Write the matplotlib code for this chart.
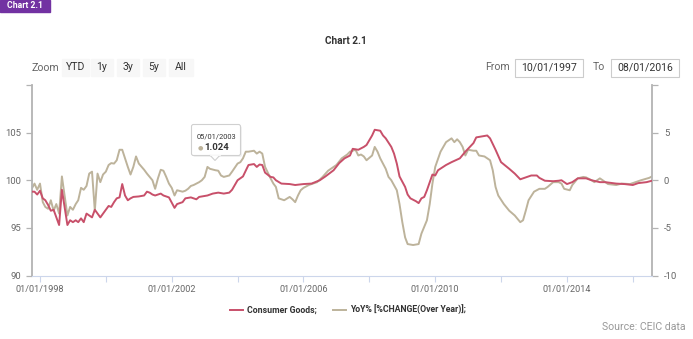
import matplotlib.pyplot as plt
import matplotlib.dates as mdates
from matplotlib.patches import Rectangle, FancyBboxPatch, Polygon
import pandas as pd

plt.rcParams['font.family'] = ['Roboto', 'DejaVu Sans']

# months counted from 10/1997
goods_m = [0, 1, 2, 3, 4, 5, 6, 7, 8, 9, 10, 11, 12, 13, 14, 15, 16, 17, 18, 19,
           20, 21, 22, 23, 24, 25, 26, 27, 28, 29, 30, 31, 32, 33, 34, 35, 36, 37, 39, 41,
           42, 43, 44, 45, 47, 48, 50, 52, 53, 55, 56, 58, 60, 61, 64, 66, 68, 70, 72, 73,
           75, 77, 78, 79, 81, 82, 83, 84, 85, 87, 88, 89, 91, 94, 96, 99, 102, 105, 107, 110,
           112, 114, 116, 117, 119, 121, 122, 123, 124, 125, 127, 128, 129, 131, 132, 133, 134, 136, 137, 138,
           140, 141, 142, 143, 144, 146, 147, 148, 151, 153, 156, 158, 161, 162, 164, 166, 167, 169, 171, 174,
           176, 178, 180, 182, 184, 185, 187, 190, 192, 193, 195, 197, 199, 202, 204, 207, 209, 213, 216, 219,
           221, 224, 226]
goods_v = [98.8, 98.8, 98.5, 98.9, 98.1, 97.9, 97.4, 96.8, 96.9, 96.1, 95.3, 99.0, 97.2, 95.3, 95.8, 95.6, 95.8, 95.6, 96.0, 95.6,
           96.5, 96.3, 96.1, 96.9, 96.5, 96.1, 96.5, 96.9, 97.3, 97.2, 97.7, 98.1, 98.2, 99.6, 98.4, 97.9, 98.1, 98.25, 98.3, 98.4,
           98.8, 98.7, 98.5, 98.4, 98.6, 98.4, 98.2, 97.1, 97.5, 97.7, 98.1, 98.2, 98.0, 98.25, 98.4, 98.6, 98.7, 98.6, 98.7, 99.0,
           100.0, 100.4, 101.0, 101.6, 101.7, 101.4, 101.65, 101.6, 100.8, 100.35, 100.3, 100.0, 99.65, 99.6, 99.5, 99.6, 99.65, 100.0, 100.4, 101.05,
           101.8, 102.3, 102.6, 103.3, 103.2, 103.5, 103.7, 104.2, 104.7, 105.3, 105.2, 104.7, 104.4, 103.5, 102.8, 101.75, 100.4, 99.3, 98.5, 98.1,
           97.8, 97.6, 98.1, 98.25, 98.95, 100.6, 100.5, 101.05, 101.6, 101.9, 102.3, 103.0, 103.9, 104.5, 104.6, 104.7, 104.4, 103.2, 101.9, 101.2,
           100.7, 100.1, 100.3, 100.5, 100.5, 100.25, 99.95, 99.9, 99.95, 100.0, 99.6, 99.8, 100.2, 100.2, 100.0, 99.8, 99.8, 99.65, 99.6, 99.5,
           99.7, 99.8, 99.95]

yoy_m = [0, 1, 2, 3, 4, 5, 6, 7, 8, 9, 10, 11, 12, 13, 14, 15, 16, 17, 18, 19,
         20, 21, 22, 23, 24, 25, 26, 27, 28, 29, 30, 31, 32, 33, 34, 35, 36, 37, 38, 39,
         40, 41, 42, 43, 44, 45, 46, 47, 48, 49, 50, 51, 52, 53, 55, 56, 57, 58, 59, 61,
         62, 63, 64, 65, 67, 68, 69, 70, 72, 73, 75, 76, 77, 78, 79, 81, 82, 83, 84, 85,
         87, 88, 89, 90, 92, 94, 95, 96, 97, 98, 99, 101, 104, 106, 108, 111, 113, 115, 116, 118,
         119, 120, 121, 122, 124, 125, 126, 127, 129, 130, 131, 133, 134, 135, 136, 137, 139, 141, 142, 144,
         145, 146, 147, 149, 151, 153, 154, 155, 156, 157, 158, 159, 161, 162, 163, 165, 167, 168, 169, 170,
         172, 174, 176, 178, 179, 180, 181, 183, 185, 187, 188, 190, 192, 193, 194, 196, 197, 199, 201, 202,
         204, 205, 207, 208, 210, 213, 215, 218, 220, 222, 225, 226]
yoy_v = [-0.9, -0.35, -1.0, -0.35, -2.3, -2.8, -3.0, -2.1, -3.2, -2.5, -3.5, 0.4, -1.6, -3.7, -2.8, -3.1, -2.5, -2.1, -0.8, -1.0,
         -0.6, 0.7, 0.9, -3.2, 0.7, -0.2, 0.6, 0.9, 1.6, 1.8, 1.75, 2.1, 3.2, 3.2, 2.3, 1.4, 0.6, 1.4, 2.5, 1.75,
         1.4, 1.1, 0.7, 0.35, 0.0, -0.9, 0.2, 1.1, 1.0, 0.35, -0.35, -0.8, -1.6, -1.05, -1.2, -1.1, -0.9, -0.6, -0.5, -0.2,
         0.0, 0.35, 1.4, 1.2, 1.05, 1.0, 0.5, 0.35, 0.5, 0.9, 1.75, 1.9, 2.3, 3.0, 3.0, 3.1, 2.8, 3.0, 2.8, 1.4,
         0.2, -0.35, -0.7, -1.9, -2.1, -1.75, -2.0, -2.3, -1.6, -1.05, -0.8, -0.5, -0.2, 0.35, 1.0, 1.6, 2.3, 2.7, 3.0, 3.2,
         2.6, 2.7, 2.5, 2.1, 2.6, 3.5, 3.0, 2.3, 1.2, 0.35, 0.0, -1.05, -2.5, -4.4, -6.0, -6.7, -6.8, -6.7, -5.6, -4.2,
         -2.5, -0.35, 1.4, 3.0, 4.0, 4.4, 4.0, 4.3, 4.0, 3.5, 2.6, 3.2, 3.1, 3.1, 2.6, 2.5, 2.1, 1.05, -0.7, -1.6,
         -2.5, -3.2, -3.7, -4.4, -4.2, -3.2, -2.1, -1.2, -0.9, -0.9, -0.7, -0.2, -0.2, -0.35, -0.9, -1.05, -0.5, 0.2, 0.35, 0.3,
         0.0, -0.2, 0.2, 0.0, -0.4, -0.5, -0.35, -0.4, -0.2, 0.0, 0.25, 0.4]

x_ticks = ['1998', '2000', '2002', '2004', '2006', '2008', '2010', '2012', '2014', '2016']
x_labels = ['01/01/1998', '', '01/01/2002', '', '01/01/2006', '', '01/01/2010', '', '01/01/2014', '']
left_ticks = [90, 95, 100, 105, 110]
left_labels = ['90', '95', '100', '105', '']
right_ticks = [-10, -5, 0, 5, 10]
right_labels = ['-10', '-5', '0', '5', '']

red = '#c8506a'
tan = '#bdb39b'
axis_grey = '#b3b3b3'
label_grey = '#666666'

months = pd.date_range('1997-10-01', '2016-08-01', freq='MS')

fig = plt.figure(figsize=(6.93, 3.39), dpi=100)
ax = fig.add_axes([31.7 / 693, 1 - 275.5 / 339, (652 - 31.7) / 693, (275.5 - 85) / 339])
ax2 = ax.twinx()

ax.plot(months[goods_m], goods_v, color=red, lw=1.4, zorder=3)
ax2.plot(months[yoy_m], yoy_v, color=tan, lw=1.4, zorder=2)

ax.set_xlim(months[0], months[-1])
ax.set_ylim(90, 110)
ax2.set_ylim(-10, 10)

ax.set_xticks(pd.to_datetime(x_ticks))
ax.set_xticklabels(x_labels)
ax.set_yticks(left_ticks)
ax.set_yticklabels(left_labels)
ax2.set_yticks(right_ticks)
ax2.set_yticklabels(right_labels)

for a in (ax, ax2):
    for s in a.spines.values():
        s.set_visible(False)
ax.spines['left'].set_visible(True)
ax.spines['left'].set_color(axis_grey)
ax.spines['left'].set_linewidth(1.3)
ax.spines['bottom'].set_visible(True)
ax.spines['bottom'].set_color('#ccd6eb')
ax.spines['bottom'].set_linewidth(0.8)
ax2.spines['right'].set_visible(True)
ax2.spines['right'].set_color(axis_grey)
ax2.spines['right'].set_linewidth(1.3)

ax.tick_params(axis='y', length=4.5, width=0.9, color=axis_grey, pad=3,
               labelsize=6.8, labelcolor=label_grey)
ax2.tick_params(axis='y', length=4.5, width=0.9, color=axis_grey, pad=4,
                labelsize=6.8, labelcolor=label_grey)
ax.tick_params(axis='x', length=4, width=0.8, color='#ccd6eb', pad=2.5,
               labelsize=6.6, labelcolor=label_grey)
ax.set_zorder(2)
ax.patch.set_visible(False)
ax2.set_zorder(1)

# page decorations drawn in pixel coordinates
ov = fig.add_axes([0, 0, 1, 1], zorder=5)
ov.set_xlim(0, 693)
ov.set_ylim(339, 0)
ov.axis('off')
ov.patch.set_visible(False)

ov.add_patch(Rectangle((0, 0), 50, 11.5, color='#7232a2'))
ov.text(25, 6, 'Chart 2.1', color='white', fontsize=6.2, fontweight='bold', ha='center', va='center')
ov.text(346, 41, 'Chart 2.1', color='#333333', fontsize=7.3, fontweight='bold', ha='center', va='center')

ov.text(32, 68, 'Zoom', color=label_grey, fontsize=7.6, ha='left', va='center')
for x0, x1, t in [(62, 89, 'YTD'), (91, 113, '1y'), (117, 139, '3y'), (143, 165, '5y'), (169, 193, 'All')]:
    ov.add_patch(Rectangle((x0, 59), x1 - x0, 17, color='#f7f7f7'))
    ov.text((x0 + x1) / 2, 67.5, t, color='#333333', fontsize=7.6, ha='center', va='center')

ov.text(485, 67.5, 'From', color=label_grey, fontsize=7.6, ha='left', va='center')
ov.text(593, 67.5, 'To', color=label_grey, fontsize=7.6, ha='left', va='center')
for x0, t in [(515, '10/01/1997'), (611, '08/01/2016')]:
    ov.add_patch(Rectangle((x0, 58.5), 68, 18, facecolor='white', edgecolor='#cccccc', lw=0.8))
    ov.text(x0 + 34, 67.5, t, color='#333333', fontsize=7.6, ha='center', va='center')

# tooltip
ov.add_patch(FancyBboxPatch((193, 126), 49, 31, boxstyle='round,pad=0,rounding_size=2',
                            facecolor='#e8e8e8', edgecolor='none', alpha=0.6))
ov.add_patch(FancyBboxPatch((191.5, 124.5), 49, 31, boxstyle='round,pad=0,rounding_size=2',
                            facecolor='white', edgecolor='#d0d0d0', lw=0.8))
ov.add_patch(Polygon([(210, 155.2), (220, 155.2), (215, 160.5)], closed=True,
                     facecolor='white', edgecolor='#d0d0d0', lw=0.8))
ov.plot([210.5, 219.5], [155.3, 155.3], color='white', lw=1.2)
ov.text(216, 137, '05/01/2003', color='#333333', fontsize=5.4, ha='center', va='center')
ov.text(200, 148, '●', color=tan, fontsize=4.5, ha='center', va='center')
ov.text(204, 148, '1.024', color='#333333', fontsize=6.8, fontweight='bold', ha='left', va='center')

# legend
ov.plot([230, 243], [310, 310], color=red, lw=1.4)
ov.text(247, 310, 'Consumer Goods;', color='#333333', fontsize=6.3, fontweight='bold', ha='left', va='center')
ov.plot([333, 346], [310, 310], color=tan, lw=1.4)
ov.text(350, 310, 'YoY% [%CHANGE(Over Year)];', color='#333333', fontsize=6.3, fontweight='bold',
        ha='left', va='center')

ov.text(686, 327, 'Source: CEIC data', color='#999999', fontsize=7.6, ha='right', va='center')

fig.savefig('out.png', dpi=100)
